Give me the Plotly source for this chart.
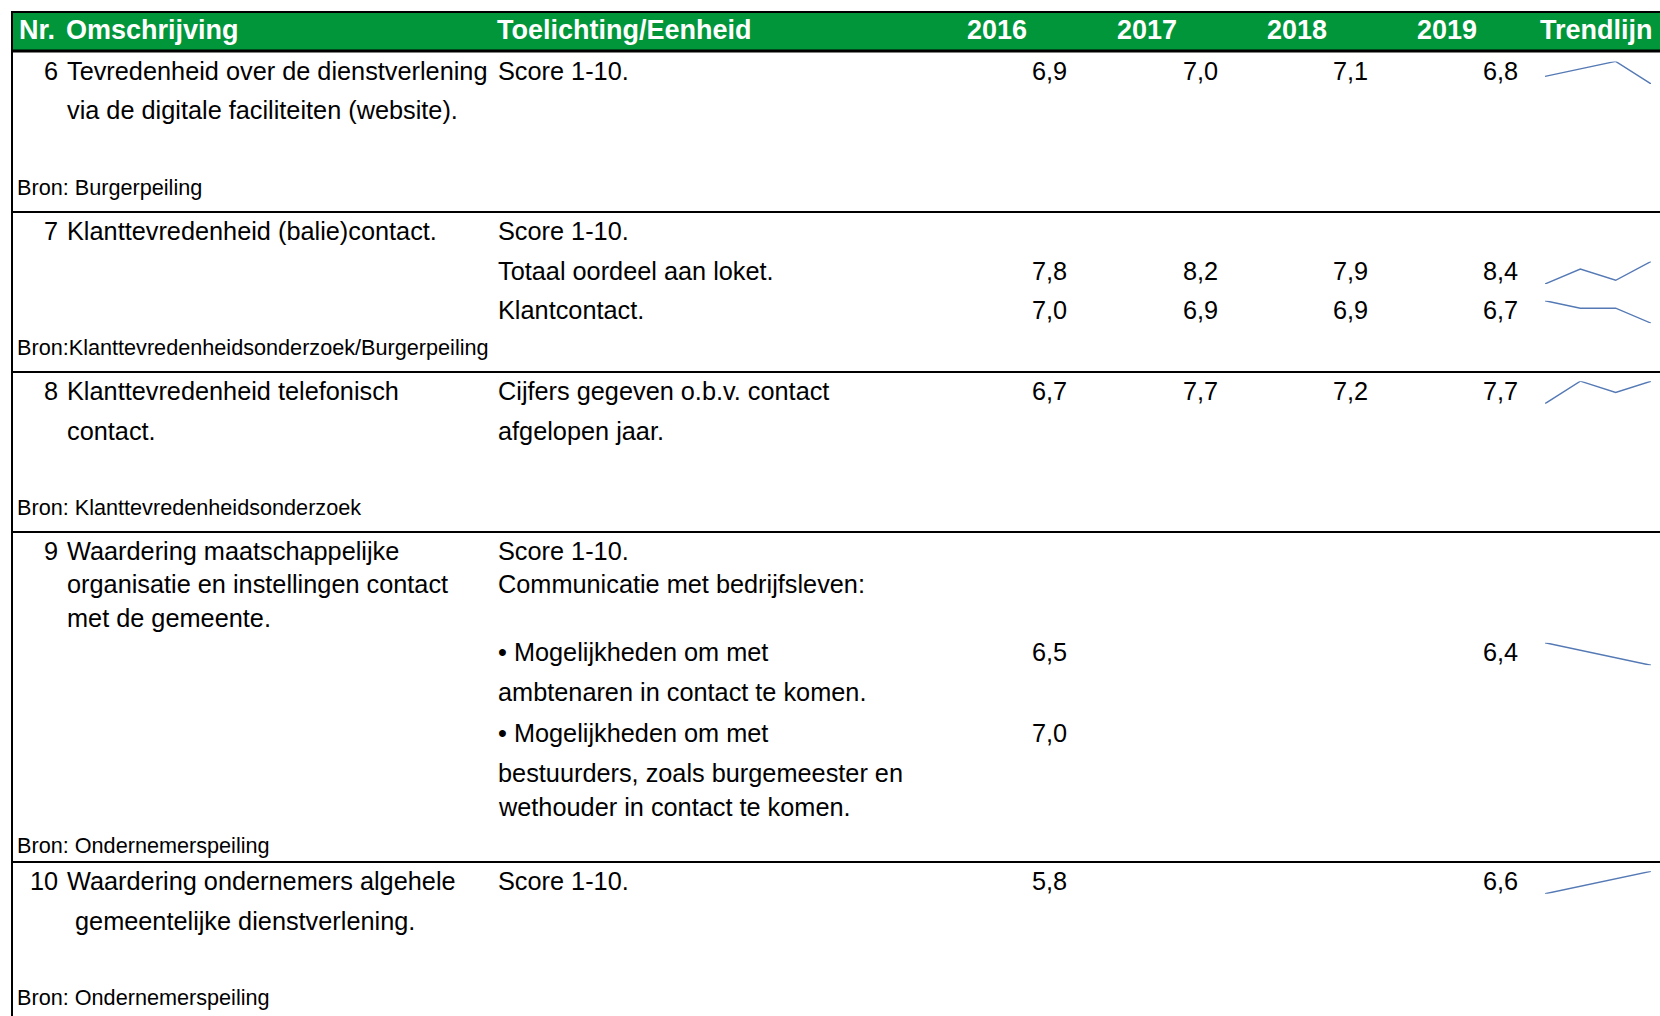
import plotly.graph_objects as go

# ---------------- data ----------------
years = ["2016", "2017", "2018", "2019"]
header_left = ["Nr.", "Omschrijving", "Toelichting/Eenheid"]
header_trend = "Trendlijn"

indicator_nrs = ["6", "7", "8", "9", "10"]
omschrijving = [
    ["Tevredenheid over de dienstverlening", "via de digitale faciliteiten (website)."],
    ["Klanttevredenheid (balie)contact."],
    ["Klanttevredenheid telefonisch", "contact."],
    ["Waardering maatschappelijke", "organisatie en instellingen contact", "met de gemeente."],
    ["Waardering ondernemers algehele", "gemeentelijke dienstverlening."],
]
toelichting = [
    ["Score 1-10."],
    ["Score 1-10.", "Totaal oordeel aan loket.", "Klantcontact."],
    ["Cijfers gegeven o.b.v. contact", "afgelopen jaar."],
    ["Score 1-10.", "Communicatie met bedrijfsleven:", "\u2022 Mogelijkheden om met",
     "ambtenaren in contact te komen.", "\u2022 Mogelijkheden om met",
     "bestuurders, zoals burgemeester en", "wethouder in contact te komen."],
    ["Score 1-10."],
]
bronnen = [
    "Bron: Burgerpeiling",
    "Bron:Klanttevredenheidsonderzoek/Burgerpeiling",
    "Bron: Klanttevredenheidsonderzoek",
    "Bron: Ondernemerspeiling",
    "Bron: Ondernemerspeiling",
]

reeks_6 = [6.9, 7.0, 7.1, 6.8]
reeks_7_totaal = [7.8, 8.2, 7.9, 8.4]
reeks_7_klant = [7.0, 6.9, 6.9, 6.7]
reeks_8 = [6.7, 7.7, 7.2, 7.7]
reeks_9_ambtenaren = [6.5, None, None, 6.4]
reeks_9_bestuurders = [7.0, None, None, None]
reeks_10 = [5.8, None, None, 6.6]
reeksen = [reeks_6, reeks_7_totaal, reeks_7_klant, reeks_8,
           reeks_9_ambtenaren, reeks_9_bestuurders, reeks_10]

# ---------------- layout (pixel positions) ----------------
W, H = 1660, 1016
def px(x):
    return x / W
def py(y):
    return 1 - y / H

header_top, header_bot = 12, 51
left_x = 12
row_lines = [212, 372, 532, 862]
nr_right = 57.5
desc_x = 66.5
toel_x = 497.5
year_right = [1067, 1217.5, 1368, 1517.5]
year_head_center = [997, 1146.5, 1297, 1447]
trend_center = 1596
spark_x0, spark_x1 = 1545, 1651
bron_x = 16.5

desc_y = [[70.9, 110.1], [230.8], [390.7, 430.9], [550.5, 584.4, 618.3], [880.8, 921.1]]
desc_dx = [[0, 0], [0], [0, 0], [0, 0, 0], [0, 8.5]]
toel_y = [[70.9], [230.8, 271.0, 310.2], [390.7, 430.9],
          [550.5, 584.4, 652.2, 692.4, 732.6, 772.9, 806.7], [880.8]]
bron_y = [187.4, 347.3, 507.1, 845.9, 997.3]
reeks_y = [70.9, 271.0, 310.2, 390.7, 652.2, 732.6, 880.8]

BODY_FONT = "Liberation Sans, Arial, sans-serif"
body_size = 25.3
bron_size = 21.65
head_size = 27.0
green = "#009639"
spark_color = "#5479b4"

fig = go.Figure()
ann = []
shapes = []

# header band
shapes.append(dict(type="rect", xref="paper", yref="paper",
                   x0=px(left_x), x1=1, y0=py(header_bot), y1=py(header_top),
                   fillcolor=green, line=dict(width=0), layer="below"))
shapes.append(dict(type="line", xref="paper", yref="paper",
                   x0=px(left_x - 1), x1=1, y0=py(header_top), y1=py(header_top),
                   line=dict(color="black", width=2)))
shapes.append(dict(type="line", xref="paper", yref="paper",
                   x0=px(left_x - 1), x1=1, y0=py(header_bot), y1=py(header_bot),
                   line=dict(color="black", width=3)))
shapes.append(dict(type="line", xref="paper", yref="paper",
                   x0=px(left_x), x1=px(left_x), y0=py(header_top - 1), y1=0,
                   line=dict(color="black", width=2)))
for yl in row_lines:
    shapes.append(dict(type="line", xref="paper", yref="paper",
                       x0=px(left_x), x1=1, y0=py(yl), y1=py(yl),
                       line=dict(color="black", width=2)))

def text(x, y, s, anchor="left", size=body_size, color="black", bold=False):
    ann.append(dict(x=px(x), y=py(y), xref="paper", yref="paper", text=("<b>%s</b>" % s) if bold else s,
                    showarrow=False, xanchor=anchor, yanchor="middle",
                    borderpad=0, borderwidth=0,
                    font=dict(family=BODY_FONT, size=size, color=color)))

head_y = 30.5
text(18.5, head_y, header_left[0], size=head_size, color="white", bold=True)
text(desc_x - 0.5, head_y, header_left[1], size=head_size, color="white", bold=True)
text(toel_x - 0.5, head_y, header_left[2], size=head_size, color="white", bold=True)
for yr, cx in zip(years, year_head_center):
    text(cx, head_y, yr, anchor="center", size=head_size, color="white", bold=True)
text(trend_center, head_y, header_trend, anchor="center", size=head_size, color="white", bold=True)

for i, nr in enumerate(indicator_nrs):
    text(nr_right, desc_y[i][0], nr, anchor="right")
    for line, yy, dx in zip(omschrijving[i], desc_y[i], desc_dx[i]):
        text(desc_x + dx, yy, line)
    for line, yy in zip(toelichting[i], toel_y[i]):
        text(toel_x, yy, line)
    text(bron_x, bron_y[i], bronnen[i], size=bron_size)

def fmt(v):
    return ("%.1f" % v).replace(".", ",")

# values + sparklines
ax_idx = 0
for reeks, yy in zip(reeksen, reeks_y):
    for v, xr in zip(reeks, year_right):
        if v is not None:
            text(xr, yy, fmt(v), anchor="right")
    pts = [(i, v) for i, v in enumerate(reeks) if v is not None]
    if len(pts) >= 2:
        ax_idx += 1
        xs = [p[0] for p in pts]
        vs = [p[1] for p in pts]
        xa = "x%d" % ax_idx if ax_idx > 1 else "x"
        ya = "y%d" % ax_idx if ax_idx > 1 else "y"
        fig.add_trace(go.Scatter(x=xs, y=vs, mode="lines", xaxis=xa, yaxis=ya,
                                 line=dict(color=spark_color, width=1.4),
                                 hoverinfo="skip", showlegend=False))
        key = "axis%d" % ax_idx if ax_idx > 1 else "axis"
        fig.layout["x" + key] = dict(domain=[px(spark_x0), px(spark_x1)], range=[0, len(years) - 1],
                                     visible=False, anchor=ya, fixedrange=True)
        fig.layout["y" + key] = dict(domain=[py(yy + 13), py(yy - 9.5)], range=[min(vs), max(vs)],
                                     visible=False, anchor=xa, fixedrange=True)

fig.update_layout(
    width=W, height=H,
    margin=dict(l=0, r=0, t=0, b=0, pad=0),
    paper_bgcolor="white", plot_bgcolor="rgba(0,0,0,0)",
    annotations=ann, shapes=shapes, showlegend=False,
)

fig.write_html("out.html", config={"displayModeBar": False},
               post_script="document.body.style.margin='0';document.body.style.overflow='hidden';")
